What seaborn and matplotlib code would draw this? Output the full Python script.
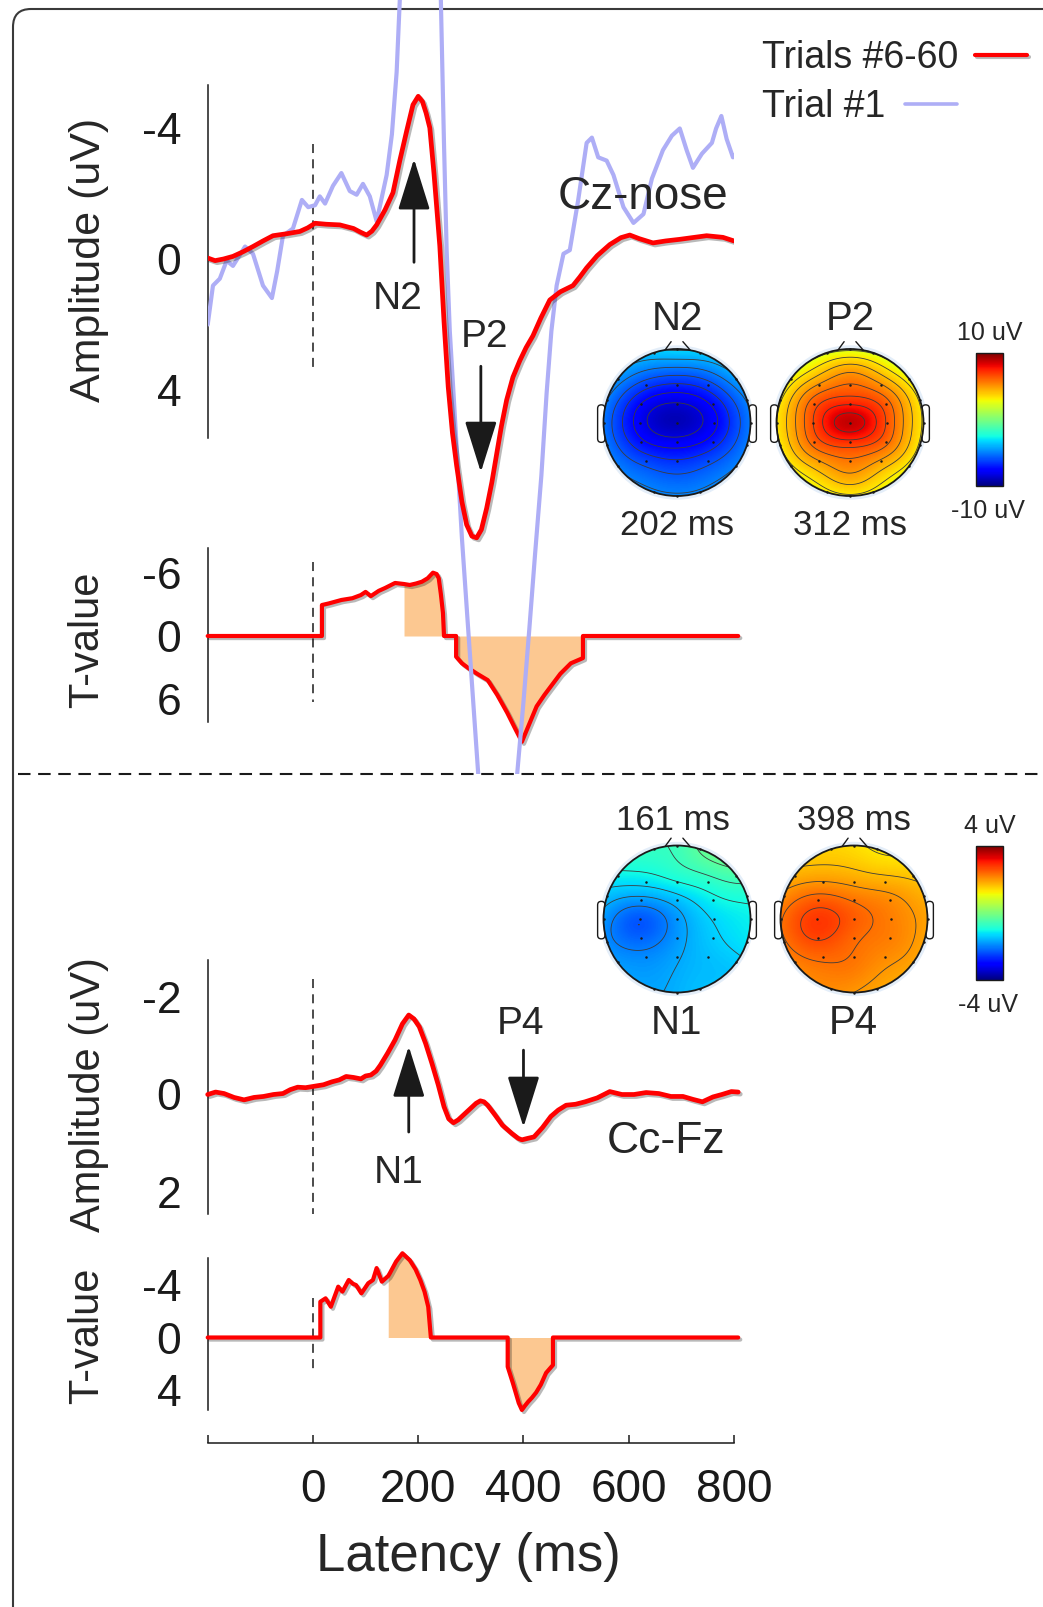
import numpy as np
import matplotlib
matplotlib.use('Agg')
import matplotlib.pyplot as plt
import matplotlib.patheffects as pe
import seaborn as sns
from matplotlib.patches import Circle, FancyBboxPatch
from matplotlib.lines import Line2D
from matplotlib.transforms import IdentityTransform
from matplotlib.cm import ScalarMappable
from matplotlib.colors import Normalize

# ---------------- data ----------------
# Cz-nose ERP, average of trials #6-60 (uV, negative up)
cz_t = [-200, -186, -170, -152, -133, -114, -95, -76, -50, -25, -10, 4, 25, 51, 77, 90, 102, 112,
        121, 137, 152, 165, 178, 190, 200, 208, 215, 222, 230, 241, 249, 257, 265, 273, 283, 292,
        302, 311, 320, 330, 340, 349, 358, 368, 380, 393, 405, 418, 433, 450, 470, 494, 507, 520,
        540, 564, 585, 602, 620, 646, 670, 697, 720, 748, 779, 800]
cz_avg = [-0.03, 0.05, 0.0, -0.08, -0.22, -0.38, -0.55, -0.71, -0.77, -0.84, -0.95, -1.09, -1.06,
          -1.04, -0.93, -0.82, -0.73, -0.85, -1.04, -1.5, -2.02, -3.0, -3.9, -4.7, -4.96, -4.8,
          -4.45, -4.0, -2.6, -0.4, 1.9, 3.9, 5.3, 6.3, 7.4, 8.1, 8.45, 8.5, 8.25, 7.6, 6.8, 5.95,
          5.1, 4.3, 3.6, 3.1, 2.7, 2.34, 1.8, 1.25, 1.0, 0.81, 0.55, 0.27, -0.1, -0.44, -0.65,
          -0.73, -0.62, -0.49, -0.55, -0.6, -0.65, -0.71, -0.66, -0.55]

# Cz-nose, trial #1
cz1_t = [-200, -190, -177, -164, -152, -129, -114, -95, -78, -68, -57, -38, -21, -9, 4, 13, 23, 38,
         54, 70, 83, 95, 108, 121, 140, 150, 159, 165, 180, 205, 230, 243, 249, 254, 260, 267, 283,
         295, 314, 335, 355, 372, 388, 400, 411, 422, 434, 444, 453, 463, 476, 488, 504, 520, 530,
         542, 558, 571, 590, 609, 628, 644, 665, 682, 697, 710, 722, 739, 758, 766, 776, 786, 798, 800]
cz_trial1 = [2.0, 0.81, 0.6, 0.05, 0.21, -0.38, -0.16, 0.81, 1.19, 0.37, -0.71, -0.93, -1.8, -1.58,
             -1.64, -1.91, -1.69, -2.23, -2.62, -2.07, -1.96, -2.29, -1.91, -1.15, -2.56, -3.8,
             -5.7, -7.9, -11.5, -13.5, -11.5, -7.9, -3.5, -0.27, 2.2, 4.08, 8.5, 11.3, 15.7, 19.0,
             19.5, 17.5, 15.7, 13.5, 11.3, 9.0, 6.6, 4.08, 2.2, 0.81, -0.16, -0.27, -1.8, -3.54,
             -3.7, -3.1, -3.0, -2.56, -1.58, -1.1, -1.37, -2.45, -3.32, -3.76, -3.98, -3.32, -2.78,
             -3.21, -3.54, -3.98, -4.36, -3.66, -3.1, -3.15]

# Cz-nose T-values
czT_t = [-200, 17, 17, 30, 54, 75, 91, 100, 110, 125, 137, 156, 173, 184, 196, 207, 218, 228, 235,
         239, 243, 247, 249, 272, 272, 283, 295, 312, 332, 350, 369, 385, 397, 410, 425, 440, 452,
         470, 490, 513, 513, 808]
czT = [0, 0, -2.95, -3.1, -3.43, -3.6, -3.9, -4.2, -3.8, -4.3, -4.57, -5.05, -4.95, -4.86, -5.0,
       -5.17, -5.5, -6.03, -5.9, -5.5, -4.0, -2.2, 0, 0, 1.97, 2.6, 3.05, 3.6, 4.2, 5.6, 7.3, 8.9,
       10.07, 8.5, 6.7, 5.6, 4.8, 3.6, 2.6, 2.1, 0, 0]
czT_sig = [(173, 249), (272, 513)]

# Cc-Fz ERP
cc_t = [-200, -185, -169, -150, -131, -112, -94, -75, -57, -43, -29, -14, 3, 20, 36, 50, 63, 77, 91,
        100, 110, 120, 128, 142, 156, 170, 182, 192, 202, 214, 226, 238, 249, 258, 267, 276, 286,
        300, 310, 318, 325, 332, 346, 360, 378, 390, 397, 408, 420, 436, 452, 466, 481, 499, 517,
        540, 564, 587, 610, 633, 657, 680, 703, 722, 740, 760, 777, 795, 808]
cc_avg = [0.0, -0.05, -0.02, 0.06, 0.11, 0.06, 0.04, 0.0, -0.02, -0.1, -0.15, -0.14, -0.17, -0.2,
          -0.26, -0.3, -0.37, -0.35, -0.32, -0.38, -0.4, -0.48, -0.6, -0.85, -1.12, -1.45, -1.63,
          -1.55, -1.39, -1.05, -0.64, -0.2, 0.25, 0.5, 0.58, 0.52, 0.42, 0.28, 0.18, 0.13, 0.15,
          0.22, 0.42, 0.63, 0.8, 0.9, 0.93, 0.9, 0.87, 0.68, 0.45, 0.32, 0.22, 0.2, 0.15, 0.07,
          -0.06, 0.0, 0.0, -0.04, -0.02, 0.04, 0.04, 0.1, 0.15, 0.05, 0.0, -0.06, -0.05]

# Cc-Fz T-values
ccT_t = [-200, 14, 14, 24, 34, 48, 56, 68, 76, 82, 92, 105, 114, 121, 131, 143, 146, 158, 170, 184,
         195, 204, 212, 219, 224, 370, 370, 380, 391, 397, 403, 409, 416, 424, 433, 443, 456, 456, 808]
ccT = [0, 0, -2.73, -2.99, -2.35, -3.88, -3.5, -4.39, -4.1, -4.0, -3.37, -4.14, -4.39, -5.3, -4.26,
       -4.7, -4.9, -5.8, -6.43, -5.9, -5.2, -4.39, -3.5, -2.35, 0, 0, 2.23, 3.5, 5.0, 5.53, 5.2,
       4.9, 4.6, 4.2, 3.6, 2.7, 2.1, 0, 0]
ccT_sig = [(143, 224), (370, 456)]

# scalp maps: electrode values (uV)
electrodes = ['Fp1', 'Fpz', 'Fp2', 'F7', 'F8', 'FT7', 'FT8', 'T7', 'T8', 'TP7', 'TP8', 'P7', 'P8',
              'O1', 'Oz', 'O2', 'F3', 'Fz', 'F4', 'FC3', 'FCz', 'FC4', 'C3', 'Cz', 'C4',
              'CP3', 'CPz', 'CP4', 'P3', 'Pz', 'P4']
topo_n2 = [-3.6, -3.2, -3.5, -4.6, -4.4, -5.0, -4.9, -5.2, -5.1, -5.2, -5.1, -5.1, -5.0, -4.9,
           -4.9, -4.9, -6.3, -6.8, -6.2, -7.5, -8.4, -7.3, -7.9, -9.0, -7.7, -7.3, -8.0, -7.1,
           -6.2, -6.6, -6.1]
topo_p2 = [2.4, 2.3, 2.4, 2.9, 2.9, 3.2, 3.2, 3.3, 3.2, 3.3, 3.2, 3.2, 3.1, 3.1, 3.2, 3.1, 5.1,
           5.9, 5.1, 6.3, 7.4, 6.2, 6.6, 8.8, 6.5, 6.2, 7.3, 6.1, 5.0, 5.7, 4.9]
topo_n1 = [-0.7, -0.6, -0.3, -1.1, -0.5, -1.5, -0.9, -1.8, -1.1, -1.9, -1.2, -1.8, -1.4, -1.7,
           -1.6, -1.5, -1.2, -1.0, -0.8, -1.8, -1.5, -1.1, -2.3, -1.8, -1.3, -2.2, -1.8, -1.4,
           -1.9, -1.7, -1.5]
topo_p4 = [1.5, 1.4, 1.3, 1.8, 1.6, 2.1, 1.8, 2.3, 1.9, 2.3, 1.9, 2.2, 1.9, 2.1, 2.0, 1.9, 2.0,
           1.9, 1.8, 2.5, 2.3, 2.1, 2.8, 2.5, 2.2, 2.7, 2.4, 2.2, 2.4, 2.3, 2.1]

# electrode layout on a unit head (x right, y towards nose)
rim_angles = [-18, 0, 18, -54, 54, -72, 72, -90, 90, -108, 108, -126, 126, -162, 180, 162]
inner_xy = [(-0.42, 0.51), (0, 0.51), (0.42, 0.51), (-0.49, 0.255), (0, 0.255), (0.49, 0.255),
            (-0.51, 0), (0, 0), (0.51, 0), (-0.49, -0.26), (0, -0.26), (0.49, -0.26),
            (-0.42, -0.52), (0, -0.52), (0.42, -0.52)]
ELEC_X = np.array([np.sin(np.radians(a)) for a in rim_angles] + [p[0] for p in inner_xy])
ELEC_Y = np.array([np.cos(np.radians(a)) for a in rim_angles] + [p[1] for p in inner_xy])

# ---------------- figure ----------------
W, H = 1043, 1607
sns.set_theme(style='white')
plt.rcParams['font.family'] = ['Liberation Sans', 'DejaVu Sans']
plt.rcParams['axes.unicode_minus'] = False
plt.rcParams['lines.scale_dashes'] = False
plt.rcParams['contour.negative_linestyle'] = 'solid'

fig = plt.figure(figsize=(W / 100, H / 100), dpi=100)
RED = '#ff0000'
BLUE = '#aeaef6'
FILL = '#fcc891'
SHADOW = [pe.SimpleLineShadow(offset=(1.5, -1.5), shadow_color='k', alpha=0.3), pe.Normal()]


def fx(X):
    return X / W


def fy(Y):
    return 1 - Y / H


def axes_px(x0, y0, x1, y1):
    return fig.add_axes([x0 / W, 1 - y1 / H, (x1 - x0) / W, (y1 - y0) / H])


def text_px(X, Yc, s, fs, ha='center'):
    # Yc is the visual centre of capitals; place baseline under it
    fig.text(fx(X), fy(Yc + 0.358 * fs * 100 / 72), s, ha=ha, va='baseline', fontsize=fs)


X_LEFT, X_RIGHT = 207.7, 734.0


def trace_axes(y_top, y_bot, y_zero, px_unit, bounds, ticks):
    ax = axes_px(X_LEFT, y_top, X_RIGHT, y_bot)
    ax.set_facecolor('none')
    ax.set_xlim(-200, 800)
    ax.set_ylim((y_bot - y_zero) / px_unit, (y_top - y_zero) / px_unit)
    sns.despine(ax=ax, top=True, right=True, bottom=True)
    ax.spines['left'].set_bounds(*bounds)
    ax.spines['left'].set_linewidth(1.1)
    ax.spines['left'].set_color('k')
    ax.set_yticks(ticks)
    ax.set_yticklabels([f'{t:d}' for t in ticks])
    ax.set_xticks([])
    ax.tick_params(axis='y', direction='in', length=5.8, width=1.1, pad=19, labelsize=32,
                   colors='k')
    ax.grid(False)
    return ax


def onset_line(ax, lo, hi):
    ax.plot([0, 0], [lo, hi], color='k', lw=1.1, dashes=(6.5, 4.5), zorder=1)


def red_trace(ax, t, v, lw=3.4, clip=True):
    sns.lineplot(x=np.array(t), y=np.array(v), ax=ax, color=RED, lw=lw, estimator=None,
                 sort=False, clip_on=clip, path_effects=SHADOW, zorder=5)


def t_trace(ax, t, v, sig):
    t = np.array(t, float)
    v = np.array(v, float)
    for a, b in sig:
        m = (t >= a) & (t <= b)
        ax.fill_between(t[m], 0, v[m], color=FILL, lw=0, zorder=2)
    red_trace(ax, t, v, lw=3.0, clip=False)


def arrow(ax, t, tail, tip):
    ax.annotate('', xy=(t, tip), xytext=(t, tail),
                arrowprops=dict(arrowstyle='-|>,head_length=1.6,head_width=0.5', lw=2.0,
                                color='k', shrinkA=0, shrinkB=0, mutation_scale=20), zorder=6)


# frame and separator
fig.add_artist(FancyBboxPatch((13, -60), 1062, H - 9 + 60,
                              boxstyle='round,pad=0,rounding_size=18', fc='none',
                              ec='#3a3a3a', lw=1.5, transform=IdentityTransform()))
fig.add_artist(Line2D([fx(18), fx(W)], [fy(774), fy(774)], color='k', lw=1.5, dashes=(9, 5.5)))

# ---- top: Cz-nose ----
ax_t1 = trace_axes(540, 765, 636, 10.5, (-8.4, 8.2), [-6, 0, 6])
ax_e1 = trace_axes(0, 774, 259, 32.8, (-5.3, 5.45), [-4, 0, 4])
ax_e1.set_zorder(3)
onset_line(ax_e1, -3.5, 3.45)
sns.lineplot(x=np.array(cz1_t), y=np.array(cz_trial1), ax=ax_e1, color=BLUE, lw=3.0,
             estimator=None, sort=False, zorder=3)
red_trace(ax_e1, cz_t, cz_avg)
ax_e1.set_xlim(-200, 800)
ax_e1.set_ylim((774 - 259) / 32.8, (0 - 259) / 32.8)
arrow(ax_e1, 192, 0.1, -3.05)
arrow(ax_e1, 319, 3.27, 6.5)

onset_line(ax_t1, -7.05, 6.3)
t_trace(ax_t1, czT_t, czT, czT_sig)
ax_t1.set_xlim(-200, 800)
ax_t1.set_ylim((765 - 636) / 10.5, (540 - 636) / 10.5)

# ---- bottom: Cc-Fz ----
ax_e2 = trace_axes(935, 1235, 1094.5, 48.75, (-2.76, 2.45), [-2, 0, 2])
onset_line(ax_e2, -2.37, 2.46)
red_trace(ax_e2, cc_t, cc_avg, clip=False)
ax_e2.set_xlim(-200, 800)
ax_e2.set_ylim((1235 - 1094.5) / 48.75, (935 - 1094.5) / 48.75)
arrow(ax_e2, 182, 0.77, -0.99)
arrow(ax_e2, 400, -0.91, 0.67)

ax_t2 = trace_axes(1245, 1443, 1337.5, 13.1, (-6.07, 5.53), [-4, 0, 4])
onset_line(ax_t2, -3.0, 2.48)
t_trace(ax_t2, ccT_t, ccT, ccT_sig)
ax_t2.set_xlim(-200, 800)
ax_t2.set_ylim((1443 - 1337.5) / 13.1, (1245 - 1337.5) / 13.1)
ax_t2.spines['bottom'].set_visible(True)
ax_t2.spines['bottom'].set_color('k')
ax_t2.spines['bottom'].set_linewidth(1.1)
ax_t2.spines['bottom'].set_bounds(-200, 800)
ax_t2.set_xticks([-200, 0, 200, 400, 600, 800])
ax_t2.set_xticklabels(['', '0', '200', '400', '600', '800'])
ax_t2.tick_params(axis='x', bottom=True, direction='in', length=5.8, width=1.1, pad=18,
                  labelsize=33, colors='k')

# ---- axis titles ----
fig.text(fx(89), fy(260), 'Amplitude (uV)', rotation=90, ha='center', va='center', fontsize=31)
fig.text(fx(87), fy(640), 'T-value', rotation=90, ha='center', va='center', fontsize=30)
fig.text(fx(89), fy(1095), 'Amplitude (uV)', rotation=90, ha='center', va='center', fontsize=30)
fig.text(fx(87), fy(1336), 'T-value', rotation=90, ha='center', va='center', fontsize=30)
text_px(468, 1552, 'Latency (ms)', 38)

# ---- annotations ----
text_px(643, 193, 'Cz-nose', 33)
text_px(398, 295, 'N2', 28)
text_px(485, 333, 'P2', 28)
text_px(666, 1137, 'Cc-Fz', 32)
text_px(399, 1169, 'N1', 28)
text_px(521, 1020, 'P4', 28)

# legend
text_px(762, 55, 'Trials #6-60', 27, ha='left')
text_px(762, 104, 'Trial #1', 27, ha='left')
fig.add_artist(Line2D([fx(975), fx(1027)], [fy(55), fy(55)], color=RED, lw=3.0,
                      path_effects=SHADOW))
fig.add_artist(Line2D([fx(905), fx(957)], [fy(104), fy(104)], color=BLUE, lw=2.6))


# ---- scalp maps ----
def scalp_field(vals, n=161, c=0.6):
    vals = np.asarray(vals, float)
    d = np.hypot(ELEC_X[:, None] - ELEC_X[None, :], ELEC_Y[:, None] - ELEC_Y[None, :])
    w = np.linalg.solve(np.sqrt(d ** 2 + c ** 2), vals)
    g = np.linspace(-1.02, 1.02, n)
    gx, gy = np.meshgrid(g, g)
    dg = np.hypot(gx[..., None] - ELEC_X, gy[..., None] - ELEC_Y)
    return gx, gy, np.sqrt(dg ** 2 + c ** 2) @ w


def scalp_map(cx, cy, vals, lim):
    half = 92
    ax = axes_px(cx - half, cy - half, cx + half, cy + half)
    ax.set_zorder(4)
    L = half / 73.5
    ax.set_xlim(-L, L)
    ax.set_ylim(-L, L)
    ax.set_axis_off()
    ax.add_patch(Circle((0, 0), 1.05, fc='#e4eef9', ec='none', zorder=1))
    for sgn in (-1, 1):
        ax.add_patch(FancyBboxPatch((sgn * 1.03 - 0.05, -0.27), 0.1, 0.51,
                                    boxstyle='round,pad=0,rounding_size=0.05',
                                    fc='white', ec='k', lw=1.0, zorder=1.5))
    ax.plot([-0.16, -0.08], [0.99, 1.1], color='k', lw=1.0, zorder=5)
    ax.plot([0.08, 0.18], [1.1, 0.985], color='k', lw=1.0, zorder=5)
    gx, gy, z = scalp_field(vals)
    clip = Circle((0, 0), 1.0, transform=ax.transData)
    im = ax.imshow(z, extent=(-1.02, 1.02, -1.02, 1.02), origin='lower', cmap='jet',
                   vmin=-lim, vmax=lim, interpolation='bilinear', zorder=2)
    im.set_clip_path(clip)
    cs = ax.contour(gx, gy, z, levels=np.linspace(-lim, lim, 25), colors='#3c3c3c',
                    linewidths=0.6, linestyles='solid', zorder=3)
    cs.set_clip_path(clip)
    ax.add_patch(Circle((0, 0), 1.0, fc='none', ec='k', lw=1.3, zorder=4))
    ax.plot(ELEC_X, ELEC_Y, 'o', color='k', ms=1.8, mew=0, zorder=6)


def color_scale(y0, y1, lim, top_txt, bot_txt):
    cax = axes_px(976, y0, 1003, y1)
    cb = fig.colorbar(ScalarMappable(norm=Normalize(-lim, lim), cmap='jet'), cax=cax)
    cb.outline.set_linewidth(1.0)
    cb.outline.set_edgecolor('k')
    cax.set_yticks([0])
    cax.tick_params(axis='y', direction='in', length=3, width=0.8, left=True, right=True,
                    labelleft=False, labelright=False, colors='#444444')
    text_px(990, y0 - 22, top_txt, 18)
    text_px(988, y1 + 23, bot_txt, 18)


scalp_map(677, 422.5, topo_n2, 10)
scalp_map(850, 422.5, topo_p2, 10)
color_scale(353, 486, 10, '10 uV', '-10 uV')
text_px(677, 316, 'N2', 29)
text_px(850, 316, 'P2', 29)
text_px(677, 523, '202 ms', 25)
text_px(850, 523, '312 ms', 25)

scalp_map(677, 919, topo_n1, 4)
scalp_map(854, 919, topo_p4, 4)
color_scale(846, 980, 4, '4 uV', '-4 uV')
text_px(673, 818, '161 ms', 25)
text_px(854, 818, '398 ms', 25)
text_px(677, 1020, 'N1', 29)
text_px(853, 1020, 'P4', 29)

fig.savefig('out.png', dpi=100)
